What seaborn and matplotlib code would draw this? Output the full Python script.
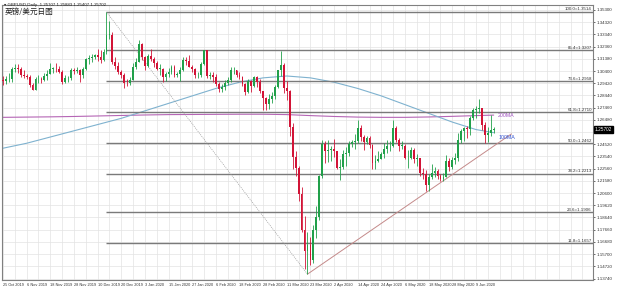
import numpy as np
import pandas as pd
import matplotlib
matplotlib.use("Agg")
import matplotlib.pyplot as plt
import seaborn as sns

# ---------------- data ----------------
dates = [d for d in pd.bdate_range("2019-10-25", "2020-06-17")
         if d.strftime("%m-%d") not in ("12-25", "01-01")]

opens = [1.2970,1.2956,1.2975,1.2977,1.3060,1.3065,1.3058,1.3008,1.2997,1.2990,1.2925,1.2890,1.2975,1.2977,1.2967,1.2998,
         1.3020,1.3060,1.3060,1.3055,1.3035,1.2950,1.2980,1.2980,1.3050,1.3040,1.3045,1.3005,1.3055,1.3140,1.3145,1.3150,
         1.3170,1.3155,1.3125,1.3190,1.3330,1.3330,1.3110,1.3080,1.3030,1.3005,1.2945,1.2940,1.2970,1.3070,1.3115,1.3255,
         1.3150,1.3080,1.3160,1.3135,1.3105,1.3060,1.3060,1.2995,1.3015,1.3035,1.3070,1.3010,1.3015,1.3045,1.3125,1.3120,
         1.3075,1.3060,1.3005,1.3010,1.3095,1.3205,1.3000,1.3005,1.2990,1.2935,1.2895,1.2915,1.2945,1.2970,1.3045,1.3045,
         1.3005,1.2990,1.2935,1.2875,1.2960,1.2920,1.2990,1.2950,1.2880,1.2820,1.2775,1.2815,1.2840,1.2910,1.3045,1.3085,
         1.2900,1.2880,1.2590,1.2350,1.2260,1.2050,1.1765,1.1595,1.1640,1.1525,1.1760,1.1870,1.2195,1.2455,1.2395,1.2405,
         1.2410,1.2400,1.2265,1.2270,1.2370,1.2385,1.2450,1.2470,1.2480,1.2580,1.2510,1.2470,1.2505,1.2445,1.2300,1.2320,
         1.2335,1.2370,1.2415,1.2435,1.2440,1.2585,1.2490,1.2440,1.2440,1.2340,1.2345,1.2405,1.2335,1.2345,1.2225,1.2210,
         1.2125,1.2190,1.2225,1.2235,1.2200,1.2170,1.2190,1.2315,1.2270,1.2325,1.2345,1.2485,1.2560,1.2585,1.2575,1.2665,
         1.2730,1.2735,1.2740,1.2605,1.2530,1.2545,1.2570]
highs = [1.2996,1.3000,1.3025,1.3070,1.3096,1.3096,1.3075,1.3045,1.3015,1.3010,1.2940,1.2990,1.3008,1.2995,1.3025,1.3045,
         1.3105,1.3075,1.3105,1.3080,1.3050,1.3005,1.3000,1.3065,1.3065,1.3070,1.3060,1.3075,1.3145,1.3165,1.3175,1.3180,
         1.3215,1.3210,1.3215,1.3514,1.3440,1.3350,1.3150,1.3115,1.3045,1.3025,1.2975,1.2990,1.3105,1.3145,1.3285,1.3265,
         1.3160,1.3175,1.3215,1.3155,1.3120,1.3100,1.3065,1.3030,1.3065,1.3090,1.3085,1.3030,1.3070,1.3150,1.3150,1.3165,
         1.3085,1.3065,1.3035,1.3115,1.3210,1.3210,1.3035,1.3030,1.3015,1.2950,1.2935,1.2965,1.2990,1.3070,1.3070,1.3050,
         1.3030,1.3000,1.2945,1.2975,1.2970,1.3000,1.3000,1.2975,1.2880,1.2830,1.2855,1.2870,1.2925,1.3050,1.3200,1.3105,
         1.2960,1.2890,1.2620,1.2395,1.2280,1.2110,1.1875,1.1745,1.1710,1.1805,1.1960,1.2205,1.2485,1.2475,1.2485,1.2440,
         1.2495,1.2400,1.2330,1.2405,1.2430,1.2475,1.2490,1.2535,1.2647,1.2605,1.2525,1.2520,1.2515,1.2450,1.2365,1.2395,
         1.2390,1.2465,1.2485,1.2480,1.2645,1.2600,1.2500,1.2475,1.2455,1.2405,1.2430,1.2425,1.2375,1.2345,1.2265,1.2245,
         1.2215,1.2295,1.2270,1.2255,1.2215,1.2220,1.2365,1.2340,1.2350,1.2385,1.2540,1.2575,1.2590,1.2595,1.2675,1.2745,
         1.2760,1.2812,1.2745,1.2630,1.2590,1.2690,1.2588]
lows = [1.2931,1.2935,1.2950,1.2955,1.3030,1.3025,1.2995,1.2980,1.2975,1.2915,1.2888,1.2885,1.2940,1.2945,1.2960,1.2970,
        1.3015,1.3025,1.3035,1.3025,1.2935,1.2940,1.2950,1.2970,1.3020,1.3025,1.2955,1.2980,1.3045,1.3095,1.3110,1.3135,
        1.3120,1.3105,1.3120,1.3180,1.3300,1.3100,1.3060,1.3020,1.2985,1.2905,1.2920,1.2930,1.2965,1.3060,1.3110,1.3125,
        1.3050,1.3075,1.3120,1.3075,1.3045,1.3010,1.2955,1.2960,1.2990,1.3020,1.2990,1.2990,1.2960,1.3040,1.3085,1.3070,
        1.3035,1.2985,1.2985,1.2990,1.3085,1.2985,1.2975,1.2955,1.2920,1.2870,1.2875,1.2890,1.2925,1.2950,1.3020,1.2990,
        1.2975,1.2920,1.2850,1.2865,1.2875,1.2915,1.2915,1.2865,1.2725,1.2725,1.2735,1.2780,1.2815,1.2905,1.3000,1.2860,
        1.2805,1.2520,1.2255,1.2195,1.2000,1.1745,1.1450,1.1409,1.1480,1.1500,1.1700,1.1840,1.2180,1.2300,1.2310,1.2320,
        1.2350,1.2250,1.2165,1.2250,1.2280,1.2360,1.2430,1.2410,1.2460,1.2480,1.2405,1.2450,1.2425,1.2250,1.2250,1.2310,
        1.2335,1.2340,1.2385,1.2395,1.2430,1.2470,1.2400,1.2410,1.2330,1.2265,1.2330,1.2300,1.2275,1.2200,1.2175,1.2075,
        1.2080,1.2170,1.2185,1.2175,1.2160,1.2155,1.2190,1.2240,1.2255,1.2295,1.2320,1.2465,1.2475,1.2500,1.2525,1.2650,
        1.2660,1.2700,1.2570,1.2465,1.2470,1.2515,1.2540]
closes = [1.2956,1.2975,1.2977,1.3060,1.3065,1.3058,1.3008,1.2997,1.2990,1.2925,1.2890,1.2975,1.2977,1.2967,1.2998,1.3020,
          1.3060,1.3060,1.3055,1.3035,1.2950,1.2980,1.2980,1.3050,1.3040,1.3045,1.3005,1.3055,1.3140,1.3145,1.3150,1.3170,
          1.3155,1.3125,1.3190,1.3330,1.3330,1.3110,1.3080,1.3030,1.3005,1.2945,1.2940,1.2970,1.3070,1.3115,1.3255,1.3150,
          1.3080,1.3160,1.3135,1.3105,1.3060,1.3060,1.2995,1.3015,1.3035,1.3070,1.3010,1.3015,1.3045,1.3125,1.3120,1.3075,
          1.3060,1.3005,1.3010,1.3095,1.3205,1.3000,1.3005,1.2990,1.2935,1.2895,1.2915,1.2945,1.2970,1.3045,1.3045,1.3005,
          1.2990,1.2935,1.2875,1.2960,1.2920,1.2990,1.2950,1.2880,1.2820,1.2775,1.2815,1.2840,1.2910,1.3045,1.3085,1.2900,
          1.2880,1.2590,1.2350,1.2260,1.2050,1.1765,1.1595,1.1640,1.1525,1.1760,1.1870,1.2195,1.2455,1.2395,1.2405,1.2410,
          1.2400,1.2265,1.2270,1.2370,1.2385,1.2450,1.2470,1.2480,1.2580,1.2510,1.2470,1.2505,1.2445,1.2300,1.2320,1.2335,
          1.2370,1.2415,1.2435,1.2440,1.2585,1.2490,1.2440,1.2440,1.2340,1.2345,1.2405,1.2335,1.2345,1.2225,1.2210,1.2125,
          1.2190,1.2225,1.2235,1.2200,1.2170,1.2190,1.2315,1.2270,1.2325,1.2345,1.2485,1.2560,1.2585,1.2575,1.2665,1.2730,
          1.2735,1.2740,1.2605,1.2530,1.2545,1.2570,1.2570]

# moving averages, sampled every 8 bars
ma_bars = [0, 8, 16, 24, 32, 40, 48, 56, 64, 72, 80, 88, 96, 104, 112, 120, 128, 136, 144, 152, 160, 166]
ma200 = [1.2668,1.2670,1.2672,1.2675,1.2679,1.2683,1.2687,1.2690,1.2691,1.2692,1.2693,1.2693,1.2690,1.2682,1.2675,
         1.2670,1.2668,1.2668,1.2671,1.2676,1.2682,1.2686]
ma100 = [1.2420,1.2460,1.2510,1.2560,1.2610,1.2660,1.2720,1.2780,1.2840,1.2900,1.2950,1.2985,1.3000,1.2985,1.2950,
         1.2900,1.2840,1.2770,1.2700,1.2630,1.2570,1.2545]

fib_pct = [100.0, 85.4, 73.6, 61.8, 50.0, 38.2, 23.6, 11.8]
fib_high, fib_low = 1.3514, 1.1409
fib_high_bar, fib_low_bar = 35, 103
trend_bars = [103, 172]
trend_vals = [1.1409, 1.2535]

title_text = "GBPUSD,Daily  1.25707 1.25883 1.25407 1.25702"
cn_title = "英镑/美元日图"
last_price = "1.25702"

# ---------------- figure ----------------
sns.set_style("white")
plt.rcParams['font.family'] = ['Liberation Sans', 'DejaVu Sans']

fig = plt.figure(figsize=(6.4, 2.88), dpi=100)
ax = fig.add_axes([2/640, 1-280/288, 591/640, 275/288])

n = len(closes)
x = np.arange(n)
o = np.array(opens); c = np.array(closes); h = np.array(highs); l = np.array(lows)
up = c >= o
green = "#21a04a"
red = "#d21437"
cols = np.where(up, green, red)

ax.vlines(x, l, h, colors=cols, lw=0.6, zorder=3)
body = np.abs(c - o)
body = np.where(body < 0.0004, 0.0004, body)
ax.bar(x, body, bottom=np.minimum(o, c), width=0.62, color=cols, lw=0, zorder=4)

# MAs
sns.lineplot(x=ma_bars, y=ma200, ax=ax, color="#b565b5", lw=0.8, zorder=2)
sns.lineplot(x=ma_bars, y=ma100, ax=ax, color="#7fb2cf", lw=0.8, zorder=2)

# fib
rng = fib_high - fib_low
for p in fib_pct:
    v = fib_low + rng * p / 100
    ax.hlines(v, fib_high_bar, 199.6, color="#7a7a7a", lw=1.0, zorder=2)
    ax.text(199.2, v + 0.0004, f"{p:.1f}={v:.4f}", fontsize=3.2, ha="right", va="bottom", color="#333333")
sns.lineplot(x=[fib_high_bar, fib_low_bar], y=[fib_high, fib_low], ax=ax, color="#9a9a9a", lw=0.5,
             linestyle=(0, (1.5, 1.5)), zorder=2)
sns.lineplot(x=trend_bars, y=trend_vals, ax=ax, color="#c48a8a", lw=0.7, zorder=2)

ax.text(167.5, 1.2680, "200MA", fontsize=3.8, color="#a050c0", va="center")
ax.text(167.5, 1.2508, "100MA", fontsize=3.8, color="#3050d0", va="center")

# axes
ax.set_xlim(-0.34, 199.6)
ax.set_ylim(1.1362, 1.3570)
ax.yaxis.tick_right()
yt = [1.3530 - 0.0098 * k for k in range(23)]
ax.set_yticks(yt)
ax.set_yticklabels([f"{v:.5f}" for v in yt], fontsize=3.2)
xt = list(range(0, n, 8))
ax.set_xticks(xt)
ax.set_xticklabels([f"{dates[i].day} {dates[i].strftime('%b %Y')}" for i in xt], fontsize=2.8, ha="left")
ax.tick_params(axis="both", length=1.5, width=0.5, pad=1, colors="#333333")
ax.set_xticks(list(range(0, 200, 4)), minor=True)
ax.tick_params(axis="x", which="minor", length=0)
ax.grid(True, which="both", color="#e3e3e3", lw=0.5, zorder=0)
ax.set_axisbelow(True)
for s in ax.spines.values():
    s.set_color("#808080"); s.set_linewidth(0.8)
ax.set_xlabel(""); ax.set_ylabel("")

# last price box
ax.text(1.003, (1.2570 - 1.1362) / (1.3570 - 1.1362), last_price, transform=ax.transAxes, fontsize=3.4,
        color="white", va="center", ha="left", bbox=dict(boxstyle="square,pad=0.15", fc="black", ec="black"))

fig.text(4/640, 1-5/288, "\u25BE " + title_text, fontsize=3.2, va="center", ha="left", color="#222222",
         family=['Liberation Sans', 'DejaVu Sans'])
fig.text(5/640, 1-12/288, cn_title, fontsize=5.5, va="center", ha="left", color="#222222",
         family=['Noto Sans CJK SC', 'DejaVu Sans'])

fig.savefig("out.png", dpi=100)
